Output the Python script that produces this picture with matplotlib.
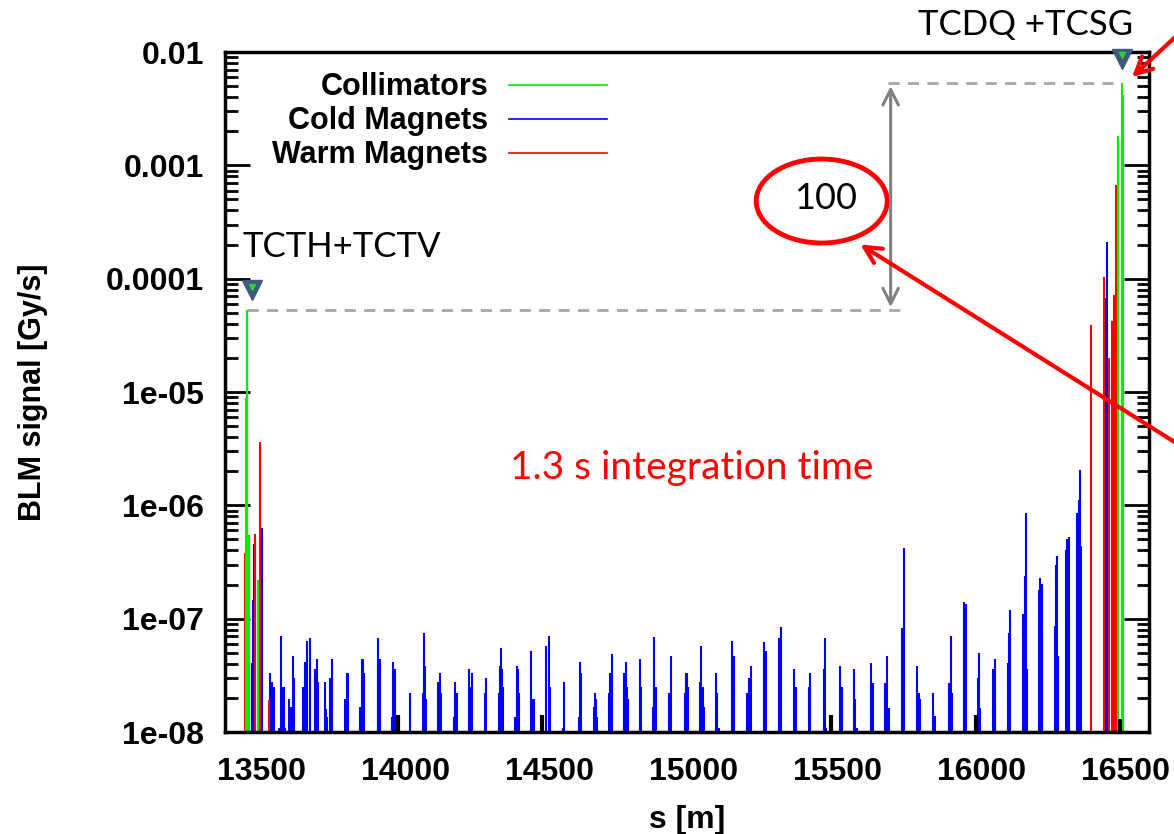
import numpy as np
import matplotlib
matplotlib.use("Agg")
import matplotlib.pyplot as plt
from matplotlib.patches import Ellipse
from matplotlib.ticker import LogLocator, NullFormatter

# BLM loss map, s position [m] and signal [Gy/s]
cold_s = [13453, 13465, 13471, 13473, 13498, 13503,
          13530, 13535, 13538, 13543, 13561, 13566, 13574, 13579, 13582,
          13596, 13603, 13609, 13613, 13645, 13650, 13656, 13667,
          13685, 13691, 13696, 13719, 13723, 13728, 13736, 13741, 13746,
          13790, 13795, 13800, 13840, 13847, 13853, 13856,
          13903, 13905, 13910, 13952, 13956, 13963,
          14015, 14059, 14064, 14068, 14071, 14112, 14119, 14124,
          14167, 14172, 14177, 14220, 14227, 14230, 14277, 14280,
          14325, 14329, 14331, 14336, 14339, 14381, 14385, 14390, 14393,
          14436, 14441, 14447, 14489, 14498, 14502, 14546, 14551,
          14601, 14604, 14609, 14655, 14657, 14662, 14664,
          14707, 14711, 14715, 14758, 14764, 14768, 14771, 14814, 14817,
          14860, 14864, 14870, 14915, 14923, 14969, 14972, 14977, 14980,
          15023, 15026, 15031, 15035, 15076, 15081, 15088, 15134, 15141,
          15186, 15192, 15198, 15246, 15252, 15298, 15302,
          15349, 15355, 15357, 15399, 15404, 15454, 15457, 15460,
          15508, 15514, 15557, 15561, 15567, 15616, 15621,
          15666, 15673, 15678, 15724, 15729, 15776, 15782, 15787,
          15832, 15839, 15886, 15892, 15896, 15938, 15944,
          15986, 15992, 15995, 16040, 16045, 16048, 16091, 16096, 16099,
          16144, 16149, 16153, 16156, 16199, 16203, 16208, 16210,
          16253, 16257, 16261, 16264, 16293, 16297, 16302, 16304,
          16332, 16337, 16340, 16344, 16432, 16436, 16471]
cold_v = [2.0e-7, 4.1e-8, 1.46e-7, 4.6e-7, 2.2e-7, 6.3e-7,
          3.3e-8, 2.76e-8, 1.94e-8, 2.5e-8, 1.09e-8, 7.1e-8, 2.5e-8, 2.5e-8, 1.09e-8,
          1.94e-8, 1.67e-8, 4.7e-8, 3.0e-8, 2.5e-8, 4.15e-8, 6.3e-8, 6.8e-8,
          3.6e-8, 4.4e-8, 2.76e-8, 2.76e-8, 1.6e-8, 1.37e-8, 3.0e-8, 2.76e-8, 4.4e-8,
          1.94e-8, 3.3e-8, 3.3e-8, 1.67e-8, 4.4e-8, 4.4e-8, 3.3e-8,
          4.15e-8, 6.7e-8, 4.4e-8, 1.37e-8, 4.15e-8, 3.6e-8,
          2.2e-8, 2.2e-8, 7.5e-8, 3.8e-8, 1.94e-8, 2.76e-8, 3.3e-8, 2.2e-8,
          1.37e-8, 2.76e-8, 2.2e-8, 3.6e-8, 2.5e-8, 3.3e-8, 2.2e-8, 3.0e-8,
          2.2e-8, 3.8e-8, 5.5e-8, 3.6e-8, 2.5e-8, 1.37e-8, 3.8e-8, 3.6e-8, 2.2e-8,
          5.2e-8, 1.94e-8, 1.94e-8, 5.7e-8, 7.1e-8, 2.5e-8, 1.09e-8, 2.76e-8,
          1.37e-8, 4.15e-8, 3.3e-8, 1.67e-8, 2.2e-8, 1.94e-8, 1.37e-8,
          2.2e-8, 3.3e-8, 4.9e-8, 3.3e-8, 4.15e-8, 2.5e-8, 1.94e-8, 4.4e-8, 2.5e-8,
          1.67e-8, 6.9e-8, 2.5e-8, 2.2e-8, 4.7e-8, 2.2e-8, 3.3e-8, 3.3e-8, 2.5e-8,
          2.76e-8, 5.7e-8, 2.5e-8, 1.67e-8, 3.3e-8, 2.2e-8, 1.09e-8, 6.3e-8, 4.7e-8,
          2.2e-8, 3.0e-8, 3.8e-8, 6.2e-8, 5.2e-8, 6.7e-8, 8.4e-8,
          3.6e-8, 2.5e-8, 1.09e-8, 2.5e-8, 3.3e-8, 3.6e-8, 6.7e-8, 1.09e-8,
          3.8e-8, 2.5e-8, 3.6e-8, 1.94e-8, 1.09e-8, 4.1e-8, 2.7e-8,
          2.7e-8, 4.7e-8, 1.64e-8, 8.2e-8, 4.2e-7, 3.8e-8, 2.2e-8, 1.94e-8,
          2.2e-8, 1.38e-8, 2.7e-8, 7.1e-8, 2.2e-8, 1.39e-7, 1.34e-7,
          3.0e-8, 5.0e-8, 1.64e-8, 3.6e-8, 4.4e-8, 2.2e-8, 4.1e-8, 7.5e-8, 1.19e-7,
          1.10e-7, 2.4e-7, 8.6e-7, 3.6e-8, 1.8e-7, 2.3e-7, 2.04e-7, 6.8e-8,
          8.6e-8, 3.0e-7, 3.6e-7, 4.7e-8, 4.0e-7, 5.0e-7, 5.3e-7, 1.02e-7,
          8.6e-7, 1.11e-6, 2.05e-6, 4.4e-7, 6.7e-5, 2.1e-4, 4.8e-4]

warm_s = [13443, 13478, 13494, 13524, 16378, 16424, 16441, 16452, 16459, 16465, 16475]
warm_v = [3.8e-7, 5.6e-7, 3.6e-6, 1.9e-8, 3.9e-5, 1.04e-4, 2.0e-5, 4.2e-5, 7.2e-5, 6.7e-4, 5.2e-4]

coll_s = [13446, 13448, 13455, 13488, 16474, 16486, 16490]
coll_v = [8.8e-6, 5.3e-5, 5.5e-7, 2.2e-7, 1.8e-3, 5.3e-3, 4.2e-3]

other_s = [13974, 14475, 15477, 15979, 16480]
other_v = [1.4e-8, 1.4e-8, 1.4e-8, 1.4e-8, 1.3e-8]

# tertiary collimators vs dump protection peaks
tct_s, tct_peak = 13448, 5.3e-5
tcdq_s, tcdq_peak = 16486, 5.3e-3
ratio_s = 15684

YMIN, YMAX = 1e-8, 1e-2
yticks = [1e-8, 1e-7, 1e-6, 1e-5, 1e-4, 1e-3, 1e-2]
ylabels = ["1e-08", "1e-07", "1e-06", "1e-05", "0.0001", "0.001", "0.01"]
xticks = [13500, 14000, 14500, 15000, 15500, 16000, 16500]

GREEN, BLUE, RED = "#00ee00", "#0000ff", "#ff0000"

fig = plt.figure(figsize=(11.74, 8.34), dpi=100)
ax = fig.add_axes([0.1917, 0.1223, 0.7870, 0.8153])

ax.vlines(cold_s, YMIN, cold_v, colors=BLUE, lw=1.5)
ax.vlines(warm_s, YMIN, warm_v, colors=RED, lw=1.5)
ax.vlines(coll_s, YMIN, coll_v, colors=GREEN, lw=1.6)
ax.vlines(other_s, YMIN, other_v, colors="black", lw=3)

ax.set_yscale("log")
ax.set_xlim(13373, 16581)
ax.set_ylim(YMIN, YMAX)

bold = dict(family="Liberation Sans", weight="bold", size=23)
ax.set_yticks(yticks)
ax.set_yticklabels(ylabels, fontdict=bold)
ax.yaxis.set_minor_locator(LogLocator(base=10, subs=np.arange(2, 10)))
ax.yaxis.set_minor_formatter(NullFormatter())
ax.set_xticks(xticks)
ax.set_xticklabels([str(t) for t in xticks], fontdict=bold)
ax.tick_params(axis="y", which="major", direction="in", length=18, width=2, right=True, pad=15)
ax.tick_params(axis="y", which="minor", direction="in", length=9, width=2, right=True)
ax.tick_params(axis="x", length=0, pad=18)
for sp in ax.spines.values():
    sp.set_linewidth(2.5)

ax.set_ylabel("BLM signal [Gy/s]", fontdict=dict(bold, size=22))
ax.yaxis.set_label_coords(-0.192, 0.5)
ax.set_xlabel("s [m]", fontdict=bold)
ax.xaxis.set_label_coords(0.5, -0.108)

# legend: labels right-aligned, sample line on the right
for i, (name, c) in enumerate([("Collimators", GREEN), ("Cold Magnets", BLUE), ("Warm Magnets", RED)]):
    yy = 0.9485 - 0.05 * i
    ax.text(0.2846, yy, name, transform=ax.transAxes, ha="right", va="center", **dict(bold, size=22))
    ax.plot([0.3074, 0.4134], [yy + 0.003, yy + 0.003], color=c, lw=1.2, transform=ax.transAxes)

# reference levels and factor between the two peaks
ax.plot([tct_s, 15717], [tct_peak, tct_peak], ls="--", color="#a6a6a6", lw=2, dashes=(4, 3))
ax.plot([15676, tcdq_s], [tcdq_peak, tcdq_peak], ls="--", color="#a6a6a6", lw=2, dashes=(4, 3))
ax.annotate("", xy=(ratio_s, tcdq_peak), xytext=(ratio_s, tct_peak),
            arrowprops=dict(arrowstyle="<->", color="#808080", lw=2.2, mutation_scale=28))

# markers over the collimator peaks
for s, v in [(13465, 7.9e-5), (16488, 8.7e-3)]:
    ax.plot(s, v, marker="v", ms=15, color="#3d5a80", clip_on=False, zorder=5)
    ax.plot(s, v * 1.08, marker="v", ms=4, color="#33cc33", clip_on=False, zorder=6)

note = dict(family="Lato", size=25)
ax.text(0.0184, 0.7132, "TCTH+TCTV", transform=ax.transAxes, ha="left", va="center", **note)
ax.text(0.75, 1.0397, "TCDQ +TCSG", transform=ax.transAxes, ha="left", va="center", **note)
ax.text(0.5054, 0.388, "1.3 s integration time", transform=ax.transAxes, ha="center",
        va="center", color=RED, family="Lato", size=28)

ax.add_patch(Ellipse((0.6458, 0.7809), 0.1418, 0.1235, transform=ax.transAxes,
                     fill=False, ec=RED, lw=3.5, clip_on=False))
ax.text(0.6504, 0.7853, "100", transform=ax.transAxes, ha="center", va="center",
        family="Lato", size=26)

# red pointers coming from the right edge
ax.annotate("", xy=(858, 834 - 243), xycoords="figure pixels",
            xytext=(1200, 834 - 458), textcoords="figure pixels",
            arrowprops=dict(arrowstyle="->", color=RED, lw=3, mutation_scale=30),
            annotation_clip=False)
ax.annotate("", xy=(1130, 834 - 79), xycoords="figure pixels",
            xytext=(1200, 834 - 14), textcoords="figure pixels",
            arrowprops=dict(arrowstyle="->", color=RED, lw=3, mutation_scale=30),
            annotation_clip=False)

fig.savefig("out.png", dpi=100)
